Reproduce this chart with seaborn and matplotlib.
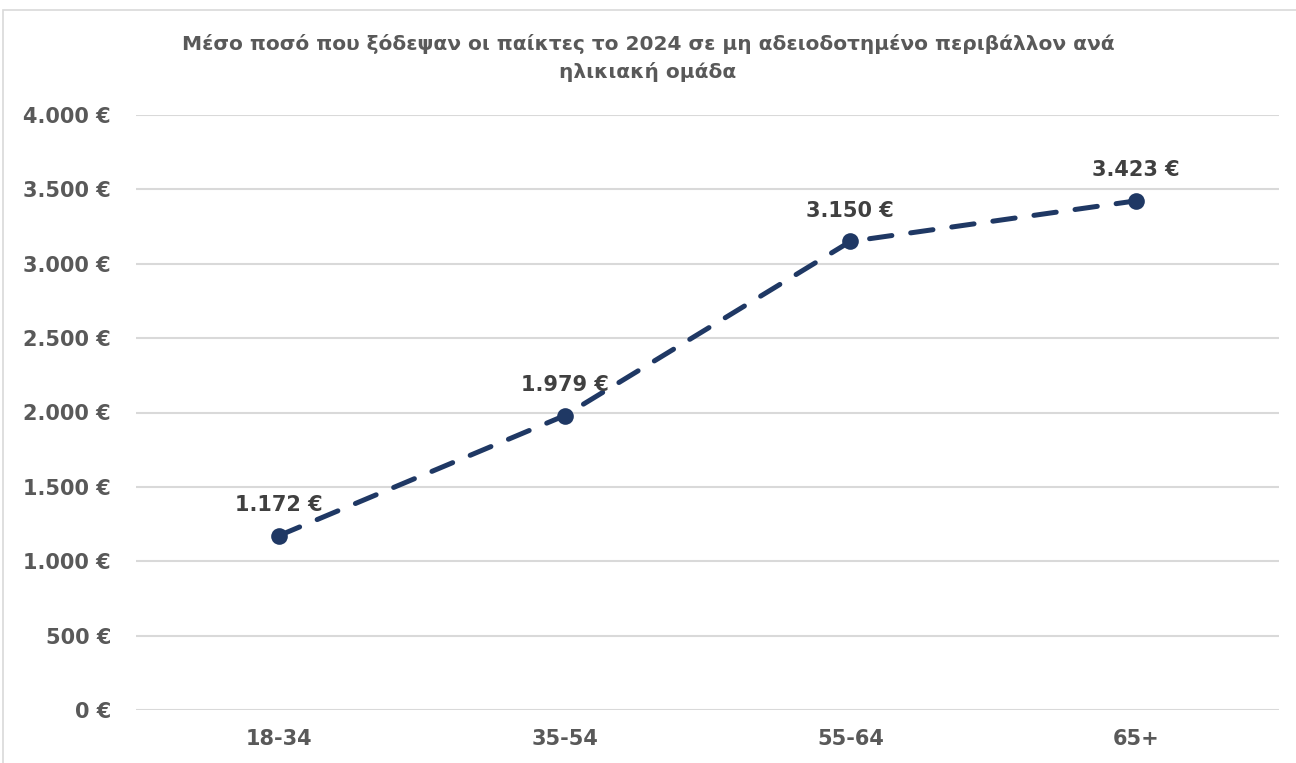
import numpy as np
import pandas as pd
import seaborn as sns
import matplotlib.pyplot as plt
from matplotlib.patches import Rectangle
from matplotlib.ticker import FuncFormatter

age_groups = ['18-34', '35-54', '55-64', '65+']
avg_spend = [1172, 1979, 3150, 3423]
y_ticks = [0, 500, 1000, 1500, 2000, 2500, 3000, 3500, 4000]
title = 'Μέσο ποσό που ξόδεψαν οι παίκτες το 2024 σε μη αδειοδοτημένο περιβάλλον ανά\nηλικιακή ομάδα'

df = pd.DataFrame({'group': age_groups, 'value': avg_spend})

sns.set_style('white')
plt.rcParams['font.family'] = ['DejaVu Sans']

gray = '#595959'
navy = '#1F3864'


def euro(v, pos=None):
    return f'{int(v):,}'.replace(',', '.') + ' €'


fig = plt.figure(figsize=(12.96, 7.63), dpi=100)
# light chart-area border (only left and top edges visible in the crop)
fig.patches.append(Rectangle((3 / 1296, -0.1), 1.1, 1.1 - 10 / 763,
                             transform=fig.transFigure, fill=False,
                             edgecolor='#D9D9D9', linewidth=1.2))
ax = fig.add_axes([136 / 1296, 53 / 763, 1143 / 1296, 595 / 763])

sns.lineplot(data=df, x='group', y='value', sort=False, ax=ax, color=navy,
             linewidth=3.6, marker='o', markersize=12, markeredgewidth=0,
             dashes=False)
ax.lines[0].set_dashes([4.5, 3.8])
ax.lines[0].set_dash_capstyle('round')

for i, v in enumerate(avg_spend):
    ax.annotate(euro(v), (i, v), xytext=(0, 22), textcoords='offset points',
                ha='center', va='center', fontsize=15, fontweight='bold', color='#404040')

ax.set_xlim(-0.5, 3.5)
ax.set_ylim(0, 4000)
ax.set_yticks(y_ticks)
ax.yaxis.set_major_formatter(FuncFormatter(euro))
ax.grid(axis='y', color='#D9D9D9', linewidth=1.5)
ax.set_axisbelow(True)
for s in ax.spines.values():
    s.set_visible(False)
ax.tick_params(length=0, labelsize=15, labelcolor=gray, pad=18)
ax.tick_params(axis='x', pad=14)
for lab in ax.get_xticklabels() + ax.get_yticklabels():
    lab.set_fontweight('bold')
ax.set_xlabel('')
ax.set_ylabel('')

fig.text(0.5, 1 - 58 / 763, title, ha='center', va='center', fontsize=14.5,
         fontweight='bold', color=gray, linespacing=1.45)

fig.savefig('out.png', dpi=100)
